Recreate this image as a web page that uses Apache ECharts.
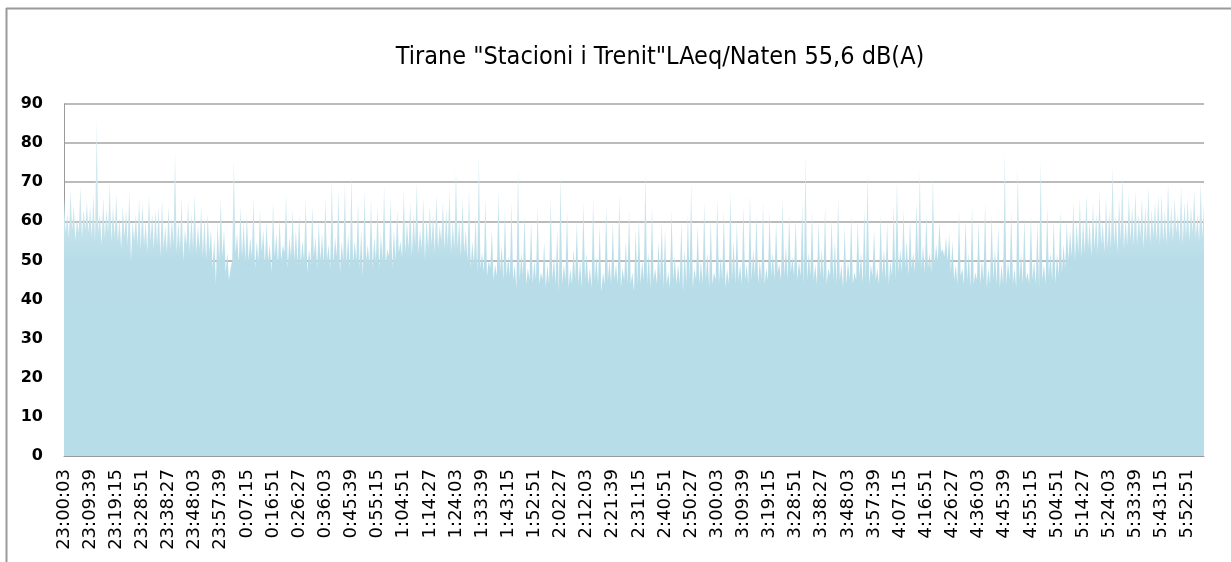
<!DOCTYPE html>
<html><head><meta charset="utf-8">
<script src="https://cdn.jsdelivr.net/npm/echarts@6/dist/echarts.min.js"></script>
<style>html,body{margin:0;padding:0;background:#fff}#c{width:1231px;height:562px}</style>
</head><body><div id="c"></div>
<script>
const titleText = 'Tirane "Stacioni i Trenit"LAeq/Naten 55,6 dB(A)';
const tickLabels = ['23:00:03','23:09:39','23:19:15','23:28:51','23:38:27','23:48:03','23:57:39',
  '0:07:15','0:16:51','0:26:27','0:36:03','0:45:39','0:55:15',
  '1:04:51','1:14:27','1:24:03','1:33:39','1:43:15','1:52:51',
  '2:02:27','2:12:03','2:21:39','2:31:15','2:40:51','2:50:27',
  '3:00:03','3:09:39','3:19:15','3:28:51','3:38:27','3:48:03','3:57:39',
  '4:07:15','4:16:51','4:26:27','4:36:03','4:45:39','4:55:15',
  '5:04:51','5:14:27','5:24:03','5:33:39','5:43:15','5:52:51'];
const tickStepSeconds = 576;
const sampleStepSeconds = 72;
const yMin = 0, yMax = 90, yStep = 10;
// short-term maximum LAeq, dB(A), one reading per 72 s
const laeqPeak = [
  66,62,68,64,61,69,63,65,  64,67,86,62,66,63,70,64,  67,61,64,63,68,60,62,66,
  65,60,67,62,63,64,66,59,  64,61,78,60,66,58,65,62,  67,59,64,61,62,58,56,60,
  66,58,52,48,76,57,64,60,  62,56,66,55,63,58,60,54,  65,57,61,54,67,56,63,58,
  62,55,66,53,64,56,60,57,  66,54,71,56,68,55,70,57,  72,55,65,58,68,54,66,56,
  64,57,69,53,66,58,63,55,  68,60,65,62,70,58,66,61,  64,62,67,59,65,63,68,60,
  73,61,66,58,68,55,62,77,  52,66,50,58,49,68,54,63,  51,65,49,74,52,62,48,60,
  50,64,47,55,49,66,51,58,  72,49,63,48,53,60,50,65,  52,48,66,51,59,47,64,50,
  60,49,67,48,55,63,47,58,  61,50,73,52,64,48,55,60,  58,47,63,51,49,60,53,62,
  70,48,59,50,65,52,61,47,  66,51,63,48,68,55,60,49,  64,49,67,53,62,50,65,48,
  63,52,60,49,66,54,62,51,  61,50,65,77,52,63,49,60,  53,64,48,61,55,66,49,59,
  50,62,47,60,52,63,73,49,  58,48,62,53,60,50,64,71,  53,63,55,61,52,65,73,54,
  62,52,72,54,60,53,56,57,  55,49,63,48,61,52,64,47,  60,50,65,48,62,53,59,49,
  78,50,63,48,74,52,61,47,  62,50,60,76,49,64,52,61,  52,63,54,60,58,65,60,66,
  61,67,60,65,62,68,60,66,  63,74,62,66,72,61,67,64,  68,62,66,64,69,63,65,67,
  67,63,70,64,66,62,69,65,  66,64,68,62,70,65
];
// short-term minimum LAeq, dB(A), one reading between consecutive maxima (estimated)
const laeqTrough = [
  57,56,58,55,57,56,58,57,  56,55,57,54,56,57,55,56,  55,53,56,54,50,55,54,53,
  54,52,55,53,54,51,53,52,  53,54,52,53,50,54,52,53,  52,53,51,50,52,48,44,50,
  51,47,45,50,52,49,51,50,  50,51,48,50,52,49,50,47,  51,49,50,52,48,51,50,49,
  49,50,47,49,51,48,50,49,  50,48,49,51,47,50,49,48,  49,50,48,46,50,49,48,50,
  48,50,49,51,48,50,52,51,  52,53,51,54,52,53,50,53,  54,52,53,55,53,54,52,53,
  53,51,52,50,48,49,47,48,  47,46,48,45,46,47,45,46,  46,45,43,45,46,44,45,44,
  45,44,45,43,44,45,44,42,  44,45,43,44,45,44,43,45,  44,43,45,44,42,44,45,44,
  45,44,43,45,44,44,42,44,  44,45,44,43,45,44,45,43,  44,43,45,44,44,42,44,45,
  43,45,44,44,45,43,44,45,  44,45,43,44,45,44,45,44,  45,44,45,46,44,45,44,45,
  46,45,47,45,46,45,47,46,  45,46,44,45,46,45,44,46,  45,44,46,45,44,45,43,44,
  45,44,45,46,44,45,44,46,  45,44,46,45,44,46,45,47,  47,48,46,48,47,49,48,47,
  48,47,49,50,52,51,50,47,  45,44,46,44,45,43,44,45,  44,45,43,44,45,44,43,44,
  44,45,44,43,45,44,45,44,  45,44,43,45,44,46,45,44,  46,47,48,50,51,50,52,51,
  52,53,51,53,52,54,52,53,  53,54,52,55,53,54,55,54,  54,56,53,55,54,56,55,54,
  55,54,56,55,57,55,54,56,  55,57,56,55,56
];

// merge the two reading lists in time order (maxima at k*72 s, minima half a step later)
const points = [];
laeqPeak.forEach(function (v, k) {
  points.push([k * sampleStepSeconds, v]);
  if (k < laeqTrough.length) points.push([k * sampleStepSeconds + sampleStepSeconds / 2, laeqTrough[k]]);
});

const chart = echarts.init(document.getElementById('c'), null, {renderer: 'canvas'});
const gridTop = 104, gridBottomY = 456;
const xMax = (laeqPeak.length - 1) * sampleStepSeconds;
chart.setOption({
  animation: false,
  backgroundColor: '#ffffff',
  graphic: [
    {type: 'line', shape: {x1: 6.5, y1: 8, x2: 6.5, y2: 562}, style: {stroke: '#9a9a9a', lineWidth: 2}},
    {type: 'line', shape: {x1: 6, y1: 8.5, x2: 1231, y2: 8.5}, style: {stroke: '#9a9a9a', lineWidth: 2}},
    {type: 'text', x: 660, y: 57, style: {text: titleText, fontFamily: 'DejaVu Sans Condensed', fontSize: 25, fill: '#000', align: 'center', verticalAlign: 'middle'}}
  ],
  grid: {left: 64, right: 27, top: gridTop, bottom: 562 - gridBottomY, containLabel: false},
  xAxis: {
    type: 'value', min: 0, max: xMax, interval: tickStepSeconds,
    axisLine: {show: true, lineStyle: {color: '#9a9a9a', width: 1}},
    axisTick: {show: false},
    splitLine: {show: false},
    axisLabel: {
      rotate: 90, margin: 13, fontFamily: 'DejaVu Sans', fontSize: 18, color: '#000',
      showMinLabel: true, showMaxLabel: true,
      formatter: function (v) {
        const i = Math.round(v / tickStepSeconds);
        return (Math.abs(v - i * tickStepSeconds) < 1e-6 && tickLabels[i]) ? tickLabels[i] : '';
      }
    }
  },
  yAxis: {
    type: 'value', min: yMin, max: yMax, interval: yStep,
    axisLine: {show: true, lineStyle: {color: '#9a9a9a', width: 1}},
    axisTick: {show: false},
    splitLine: {show: true, lineStyle: {color: '#a4a4a4', width: 1.5}},
    axisLabel: {margin: 21, fontFamily: 'DejaVu Sans', fontWeight: 'bold', fontSize: 16, color: '#000'}
  },
  series: [{
    type: 'line',
    data: points,
    showSymbol: false, symbol: 'none', sampling: null,
    lineStyle: {width: 0},
    areaStyle: {
      opacity: 1,
      color: new echarts.graphic.LinearGradient(0, gridTop, 0, gridBottomY, [
        {offset: 0, color: '#e0f0f5'},
        {offset: 0.3, color: '#cbe6ee'},
        {offset: 0.45, color: '#b8dde8'},
        {offset: 1, color: '#b7dde8'}
      ], true)
    },
    emphasis: {disabled: true},
    silent: true
  }]
});
</script>
</body></html>
